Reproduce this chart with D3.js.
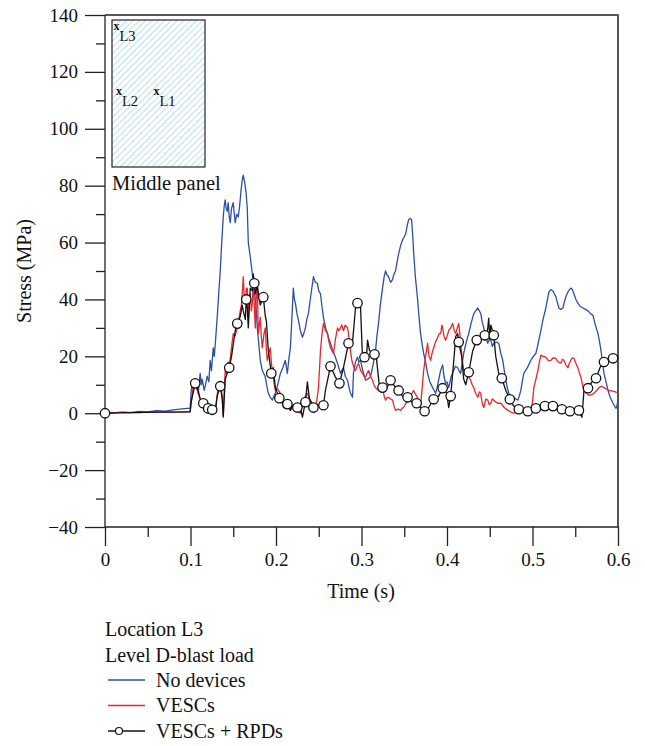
<!DOCTYPE html>
<html>
<head>
<meta charset="utf-8">
<script src="https://cdn.jsdelivr.net/npm/d3@7"></script>
<style>
  html, body { margin: 0; padding: 0; background: #fff; }
  svg { display: block; }
  text { font-family: "Liberation Serif", "Times New Roman", serif; fill: #111; }
</style>
</head>
<body>
<svg id="chart" width="645" height="746"></svg>
<script>
// Stress history at location L3, level D blast load: [time (s), stress (MPa)]
const noDevices = [
  [0,0],[0.01,0.1],[0.02,0.4],[0.03,0.2],[0.04,0.6],[0.05,0.5],[0.06,0.9],[0.07,0.7],[0.08,1.2],[0.09,1.5],[0.0996,1.8],
  [0.1008,8],[0.1031,11.6],[0.1045,9],[0.1066,10.5],[0.109,7],[0.1113,14],[0.1125,10],[0.1137,12],[0.1160,8],[0.1172,9.5],
  [0.1195,13],[0.1215,11],[0.123,18.6],[0.1245,15],[0.1266,23],[0.1278,20],[0.1289,24],[0.1313,34],[0.1330,42],[0.1348,50],
  [0.1365,60],[0.1383,69],[0.1395,73],[0.1406,75],[0.1418,72],[0.143,71],[0.1441,74],[0.1453,69],[0.1465,67],[0.1480,72],
  [0.15,74],[0.1512,70],[0.1523,67],[0.1540,70],[0.1559,69],[0.1575,73],[0.1590,78],[0.1605,82],[0.1617,83.7],[0.1635,81],
  [0.1652,77],[0.1664,72],[0.1676,60],[0.1699,55],[0.1723,49],[0.1740,45],[0.1758,40],[0.1770,36],[0.1781,30],[0.1800,24],
  [0.1816,18.6],[0.1840,15],[0.1875,12.7],[0.1890,10],[0.191,7],[0.1935,5.5],[0.1957,4.6],[0.1975,6],[0.1992,7],[0.2020,10],
  [0.2051,14],[0.2080,16],[0.2109,18.6],[0.2133,14],[0.2150,19],[0.2168,23],[0.2185,33],[0.2203,44],[0.2215,40],[0.2227,38.7],
  [0.2245,35],[0.2262,32.7],[0.2285,29],[0.2309,26.7],[0.2325,28],[0.2344,30],[0.2360,33],[0.2379,35],[0.2410,42],[0.2438,48],
  [0.2460,46],[0.2484,45.7],[0.250,43],[0.252,42],[0.2540,37],[0.2555,33.7],[0.2580,30],[0.2602,28],[0.2620,26],[0.2637,24.6],
  [0.2665,22],[0.2695,19.7],[0.2725,17],[0.2754,14],[0.2770,15],[0.2789,16],[0.2810,13],[0.2836,11.6],[0.2855,9],[0.2871,7],
  [0.2895,5.6],[0.2906,14],[0.2930,18],[0.2953,19.7],[0.2970,18],[0.2988,18.6],[0.3015,15],[0.3047,11.6],[0.3075,12],[0.3105,12.7],
  [0.3135,17],[0.3164,22],[0.3180,27],[0.3199,31.6],[0.3220,38],[0.3246,44],[0.3265,48],[0.3281,50],[0.3300,48.5],[0.3316,48],
  [0.3340,46],[0.3363,47],[0.3380,49],[0.3398,50],[0.3415,53],[0.3434,56],[0.3458,59],[0.348,61],[0.3500,62],[0.3516,63],
  [0.3535,66],[0.3551,68],[0.3570,68.5],[0.3586,68],[0.3598,63],[0.3609,57],[0.3630,48],[0.3656,40],[0.3675,33],[0.3691,28],
  [0.3710,24],[0.3727,21],[0.3750,18],[0.3773,14],[0.3800,11],[0.3832,9],[0.3850,8],[0.3867,7],[0.3885,9],[0.3902,11.6],
  [0.3925,15],[0.3949,17],[0.3965,13],[0.3984,10.5],[0.400,11],[0.402,9],[0.4050,13],[0.4078,15],[0.4100,16.5],[0.4125,16],
  [0.4140,15],[0.416,14],[0.4180,18],[0.4195,21],[0.4225,25],[0.4254,28],[0.4285,32],[0.4313,35],[0.4335,36],[0.436,37],
  [0.4378,36],[0.4395,35],[0.4412,32],[0.443,30],[0.4455,27],[0.4477,24.6],[0.4495,26],[0.4512,25.7],[0.4530,23.5],[0.4547,24.6],
  [0.4575,25],[0.4605,24.6],[0.4630,21],[0.4652,18.6],[0.4670,15],[0.4688,11.6],[0.4705,9],[0.4723,7],[0.4750,6],[0.4781,5.6],
  [0.4805,5],[0.4828,4.6],[0.4845,6],[0.4863,8],[0.4880,11],[0.4898,14],[0.4940,16],[0.498,18.6],[0.5010,20],[0.5039,21],
  [0.5055,23],[0.5074,25.7],[0.5098,29],[0.5121,32.7],[0.5140,35],[0.5156,37],[0.5175,40],[0.5191,42.5],[0.5215,43.5],[0.5238,43],
  [0.5255,42],[0.5273,41],[0.5290,39],[0.5309,37],[0.5330,36.5],[0.5355,37],[0.5372,39],[0.5391,41],[0.5420,43],[0.5449,44],
  [0.5465,43.5],[0.5484,42],[0.5508,40],[0.5531,38.7],[0.5560,37.5],[0.559,37],[0.5620,36.5],[0.5648,36],[0.5680,35],[0.5707,34.4],
  [0.5735,31],[0.5766,28],[0.5785,25],[0.5801,22],[0.5820,18],[0.5836,14],[0.5860,11],[0.5883,8],[0.5910,5.5],[0.5941,3.5],
  [0.5960,2.5],[0.5977,1.7],[0.5990,3],[0.6,4.6]
];

const vescs = [
  [0,0],[0.02,0.3],[0.04,0.2],[0.06,0.5],[0.08,0.4],[0.0996,0.6],[0.1008,4],[0.1030,9],[0.1055,11.6],[0.1070,9],[0.109,7],
  [0.1113,5],[0.1137,3.5],[0.1150,2.5],[0.1172,1.7],[0.1190,1],[0.1207,0],[0.1230,1.5],[0.1254,1],[0.1270,2],[0.1289,0],
  [0.1305,5],[0.1324,9],[0.1348,10.5],[0.1360,8],[0.1371,6],[0.1383,-0.7],[0.1395,8],[0.1406,15],[0.1418,14],[0.143,16],
  [0.1441,18],[0.1455,16.5],[0.1475,22],[0.15,28],[0.1520,27],[0.1547,30],[0.1565,33],[0.1582,36],[0.1595,38],[0.1605,42],
  [0.1610,44],[0.1617,48],[0.1630,40],[0.1641,40],[0.1655,44],[0.1664,44],[0.1676,33.7],[0.1690,40],[0.1699,42],[0.1712,36],
  [0.1723,38.7],[0.1734,46.7],[0.1745,38],[0.1758,30],[0.1770,42],[0.1781,45.7],[0.1793,28],[0.1805,31],[0.1816,33.7],[0.1828,27],
  [0.184,23],[0.1860,28],[0.1875,30],[0.1888,22],[0.1898,18.6],[0.1915,21],[0.1934,23],[0.1945,18],[0.1957,15],[0.1975,11],
  [0.1992,8],[0.2020,8.5],[0.2051,7],[0.2070,4],[0.2086,2],[0.2110,3],[0.2133,4.6],[0.2150,2.5],[0.2168,1],[0.2195,2.5],
  [0.2227,2],[0.2255,1],[0.2285,0],[0.2305,2.5],[0.232,4.6],[0.2345,6],[0.2367,7],[0.2395,5],[0.2426,3.5],[0.2445,3],
  [0.2461,2],[0.2480,5],[0.2496,9],[0.2508,15],[0.252,22],[0.2538,28],[0.2555,31.6],[0.2580,29],[0.2602,28],[0.2620,25],
  [0.2637,23],[0.2655,22],[0.2672,21],[0.2695,26],[0.2719,30],[0.2735,29],[0.2754,30],[0.2770,31],[0.2789,29],[0.2810,31],
  [0.2836,30],[0.2848,28],[0.2860,25],[0.2871,22],[0.2885,19],[0.2895,17.6],[0.2912,16],[0.293,15],[0.2948,16.5],[0.2965,17.6],
  [0.2990,15],[0.3012,14],[0.3030,13],[0.3047,12.7],[0.3065,14],[0.3082,15],[0.3105,13],[0.3129,11.6],[0.3145,10],[0.3164,9],
  [0.3180,8.5],[0.3199,8],[0.3222,9.5],[0.3246,9],[0.3265,6],[0.3281,4.6],[0.3300,5.5],[0.3316,5.6],[0.3340,5],[0.3363,4.6],
  [0.3380,2.5],[0.3398,1],[0.3428,1.5],[0.3457,1],[0.3475,1.8],[0.3492,2],[0.3520,3.5],[0.3551,4.6],[0.3580,6.5],[0.3609,8],
  [0.3635,6.5],[0.3656,5.6],[0.3675,3],[0.3691,2.5],[0.3710,9],[0.3727,15],[0.3750,20],[0.3773,24.6],[0.3790,20],[0.3809,18.6],
  [0.3825,21],[0.3844,23],[0.3865,25],[0.3891,26.7],[0.3910,28],[0.3926,28],[0.3940,31],[0.3949,30],[0.3965,27],[0.3984,25.7],
  [0.4000,27],[0.402,29],[0.4043,30],[0.4066,31.6],[0.4085,29],[0.4102,28],[0.4120,30],[0.4137,31.6],[0.4150,28],[0.416,24.6],
  [0.4178,19],[0.4195,15],[0.4220,15.5],[0.4242,14],[0.4260,12.5],[0.4277,11.6],[0.4295,10],[0.4313,9],[0.4335,7],[0.436,5.6],
  [0.4378,7.5],[0.4395,7],[0.4412,3.5],[0.443,2],[0.4455,5],[0.4477,4.6],[0.4495,3],[0.4512,3.5],[0.4530,5],[0.4547,4.6],
  [0.4590,3.5],[0.4629,3.5],[0.4670,2],[0.4711,1],[0.4745,0.5],[0.4781,0],[0.4820,0.5],[0.4863,0],[0.4905,1],[0.4945,2],
  [0.4965,1],[0.498,0],[0.5000,4],[0.5016,9],[0.5040,12],[0.5063,15],[0.5080,18],[0.5098,20.4],[0.5125,20],[0.5156,19.7],
  [0.5185,18.5],[0.5215,18.6],[0.5245,19.5],[0.5273,19.3],[0.5300,18],[0.5332,17.6],[0.5350,19],[0.5367,18.6],[0.5390,17],
  [0.5414,16],[0.5430,17.5],[0.5449,18.6],[0.5465,19.5],[0.5484,19.3],[0.5508,17.5],[0.5531,16],[0.5550,14],[0.5566,12.7],
  [0.5585,10],[0.5602,8],[0.5630,7],[0.566,6.3],[0.5690,6.5],[0.5719,7],[0.5750,8],[0.5777,9],[0.5805,9.5],[0.5836,9],
  [0.5865,8.5],[0.5895,8],[0.5940,7.8],[0.5977,7.4],[0.6,7.3]
];

// third entry = 1 where the curve carries a circle symbol
const vescsRpds = [
  [0,0,1],[0.03,0.2],[0.06,0.4],[0.0996,0.5],[0.1008,4],[0.1055,10.5,1],[0.109,8],[0.1113,5],[0.1149,3.5,1],[0.118,2.5],
  [0.1207,1.7,1],[0.1254,1.2,1],[0.1289,0.5],[0.1313,6],[0.1348,9.5,1],[0.1371,5],[0.1383,-1.4],[0.1406,12],[0.1453,16,1],
  [0.148,20],[0.1523,29],[0.1547,31.5,1],[0.1582,34],[0.1605,38],[0.1617,36],[0.1641,33],[0.1652,40,1],[0.1664,37],[0.1676,30],
  [0.1699,44],[0.1723,43],[0.1734,49],[0.1746,45.7,1],[0.1758,42],[0.1781,45],[0.1816,38],[0.1852,40.8,1],[0.1875,34],
  [0.1887,32.7],[0.191,22],[0.1945,14,1],[0.1969,16],[0.1992,9],[0.2039,5.3,1],[0.2086,3],[0.2133,3.2,1],[0.2168,1],[0.2203,3],
  [0.225,2,1],[0.2285,2],[0.2309,-1.4],[0.2344,3.9,1],[0.2367,11],[0.2391,5],[0.2438,2,1],[0.2484,3],[0.2555,2.8,1],[0.2578,8],
  [0.2637,16.5,1],[0.2695,12.7],[0.2742,10.5,1],[0.2789,16],[0.2848,24.6,1],[0.2895,25],[0.293,37],[0.2953,38.7,1],[0.2988,38],
  [0.3012,19],[0.3035,19.7,1],[0.3059,20],[0.3071,25.7],[0.3094,22],[0.3129,21],[0.3152,20.7,1],[0.3176,19],[0.3211,9],
  [0.3246,9,1],[0.3281,8],[0.334,11.6,1],[0.3398,9],[0.3434,8,1],[0.348,6],[0.3539,5.6,1],[0.3586,4],[0.3645,3.5,1],[0.3691,2],
  [0.3738,0.7,1],[0.3785,2],[0.3844,4.9,1],[0.3902,6],[0.3949,8.8,1],[0.3996,7],[0.402,2],[0.4043,6,1],[0.4078,18],[0.4102,27],
  [0.4125,28],[0.4137,25,1],[0.4172,20],[0.4195,12],[0.4219,10],[0.4254,14.4,1],[0.4301,22],[0.4348,25.7,1],[0.4395,27],
  [0.4442,27.4,1],[0.4465,28],[0.4477,30],[0.4488,33.4],[0.45,26],[0.4512,31],[0.4547,27.4,1],[0.457,20],[0.4605,14],
  [0.4641,12.3,1],[0.4688,8],[0.4735,4.9,1],[0.4781,2.5],[0.484,1.4,1],[0.4898,1],[0.4945,0.7,1],[0.4992,1.5],[0.5039,1.7,1],
  [0.5098,2],[0.5145,2.5,1],[0.5191,2.5],[0.5239,2.5,1],[0.5285,1.8],[0.5344,1.4,1],[0.5391,1],[0.5438,0.7,1],[0.549,1.6],
  [0.5543,1,1],[0.5578,-1.4],[0.5602,8],[0.5649,8.8,1],[0.5695,11],[0.5743,12.3,1],[0.5789,16],[0.5836,18,1],[0.5883,19],
  [0.5942,19.3,1],[0.6,20]
];

const xMajorTicks = [0, 0.1, 0.2, 0.3, 0.4, 0.5, 0.6];
const xMinorTicks = [0.05, 0.15, 0.25, 0.35, 0.45, 0.55];
const yMajorTicks = [-40, -20, 0, 20, 40, 60, 80, 100, 120, 140];
const yMinorTicks = [-30, -10, 10, 30, 50, 70, 90, 110, 130];

const seriesNames = ["No devices", "VESCs", "VESCs + RPDs"];
const captionLines = ["Location L3", "Level D-blast load"];
const insetTitle = "Middle panel";
const gaugeNames = ["L3", "L2", "L1"];

// ---- layout ----
const svg = d3.select("#chart");
const plot = { left: 105, right: 618, top: 15, bottom: 527 };
const colors = { blue: "#2c4fa6", red: "#e8262c", black: "#111" };
const titleSize = 20;

const x = d3.scaleLinear().domain([0, 0.6]).range([plot.left, plot.right]);
const y = d3.scaleLinear().domain([-40, 140]).range([plot.bottom, plot.top]);

const fmtX = d => d === 0 ? "0" : d3.format(".1f")(d);
const fmtY = d3.format("d");

// frame (top and right edges)
svg.append("path")
  .attr("d", `M${plot.left},${plot.top}H${plot.right}V${plot.bottom}`)
  .attr("fill", "none").attr("stroke", "#222").attr("stroke-width", 1.3);
svg.append("line").attr("x1", plot.right).attr("x2", plot.right).attr("y1", plot.top).attr("y2", plot.bottom)
  .attr("stroke", "#555").attr("stroke-width", 2);

// y axis
const gy = svg.append("g").attr("transform", `translate(${plot.left},0)`);
gy.call(d3.axisLeft(y).tickValues(yMajorTicks).tickSize(20).tickPadding(7).tickFormat(fmtY));
const gyMinor = svg.append("g").attr("transform", `translate(${plot.left},0)`);
gyMinor.call(d3.axisLeft(y).tickValues(yMinorTicks).tickSize(9).tickFormat(""));
gyMinor.select(".domain").remove();

// x axis
const gx = svg.append("g").attr("transform", `translate(0,${plot.bottom})`);
gx.call(d3.axisBottom(x).tickValues(xMajorTicks).tickSize(19).tickPadding(7).tickFormat(fmtX));
const gxMinor = svg.append("g").attr("transform", `translate(0,${plot.bottom})`);
gxMinor.call(d3.axisBottom(x).tickValues(xMinorTicks).tickSize(10).tickFormat(""));
gxMinor.select(".domain").remove();

gx.select(".domain").attr("d", `M${plot.left},0H${plot.right}`);
gy.select(".domain").attr("d", `M0,${plot.top}V${plot.bottom}`);
svg.selectAll(".tick line, .domain").attr("stroke", "#222").attr("stroke-width", 1.3);
svg.selectAll(".tick text")
  .attr("font-family", "Liberation Serif, Times New Roman, serif")
  .attr("font-size", 19).attr("fill", "#111");

// axis titles
svg.append("text").attr("x", 361).attr("y", 598)
  .attr("text-anchor", "middle").attr("font-size", titleSize).text("Time (s)");
svg.append("text").attr("transform", "translate(31,271) rotate(-90)")
  .attr("text-anchor", "middle").attr("font-size", titleSize).text("Stress (MPa)");

// inset: middle panel with gauge locations
const defs = svg.append("defs");
const pat = defs.append("pattern").attr("id", "hatch").attr("patternUnits", "userSpaceOnUse")
  .attr("width", 4.5).attr("height", 4.5).attr("patternTransform", "rotate(45)");
pat.append("rect").attr("width", 4.5).attr("height", 4.5).attr("fill", "#fff");
pat.append("line").attr("x1", 0).attr("y1", 0).attr("x2", 0).attr("y2", 4.5)
  .attr("stroke", "#86cbe3").attr("stroke-width", 1.1);

const inset = { x: 112, y: 20, w: 93, h: 147 };
svg.append("rect").attr("x", inset.x).attr("y", inset.y).attr("width", inset.w).attr("height", inset.h)
  .attr("fill", "url(#hatch)").attr("stroke", "#111").attr("stroke-width", 1.1);

const gaugeSpots = [[4.5, 6], [7, 71], [44.5, 71]];
gaugeNames.forEach((name, i) => {
  const [gxp, gyp] = gaugeSpots[i];
  svg.append("text").attr("x", inset.x + gxp).attr("y", inset.y + gyp + 4)
    .attr("text-anchor", "middle").attr("font-family", "DejaVu Sans, sans-serif")
    .attr("font-weight", "bold").attr("font-size", 12).text("x");
  svg.append("text").attr("x", inset.x + gxp + 3).attr("y", inset.y + gyp + 15)
    .attr("font-size", 14.5).text(name);
});
svg.append("text").attr("x", inset.x).attr("y", 190).attr("font-size", 20.5).text(insetTitle);

// curves
const line = d3.line().x(d => x(d[0])).y(d => y(d[1]));
const curves = svg.append("g");
curves.append("path").datum(noDevices).attr("d", line)
  .attr("fill", "none").attr("stroke", colors.blue).attr("stroke-width", 1.3).attr("stroke-linejoin", "round");
curves.append("path").datum(vescs).attr("d", line)
  .attr("fill", "none").attr("stroke", colors.red).attr("stroke-width", 1.3).attr("stroke-linejoin", "round");
curves.append("path").datum(vescsRpds).attr("d", line)
  .attr("fill", "none").attr("stroke", colors.black).attr("stroke-width", 1.3).attr("stroke-linejoin", "round");
curves.selectAll("circle").data(vescsRpds.filter(d => d[2] === 1)).join("circle")
  .attr("cx", d => x(d[0])).attr("cy", d => y(d[1])).attr("r", 4.7)
  .attr("fill", "#fff").attr("stroke", colors.black).attr("stroke-width", 1.3);

// caption and legend
captionLines.forEach((t, i) => {
  svg.append("text").attr("x", 105).attr("y", 636 + i * 25.5).attr("font-size", titleSize).text(t);
});
const legendColors = [colors.blue, colors.red, colors.black];
seriesNames.forEach((name, i) => {
  const ly = 680 + i * 25.5;
  svg.append("line").attr("x1", 108).attr("x2", 145).attr("y1", ly).attr("y2", ly)
    .attr("stroke", legendColors[i]).attr("stroke-width", 1.3);
  if (i === 2) {
    svg.append("circle").attr("cx", 119).attr("cy", ly).attr("r", 3.5)
      .attr("fill", "#fff").attr("stroke", colors.black).attr("stroke-width", 1.2);
  }
  svg.append("text").attr("x", 156).attr("y", ly + 6.5).attr("font-size", titleSize).text(name);
});
</script>
</body>
</html>
